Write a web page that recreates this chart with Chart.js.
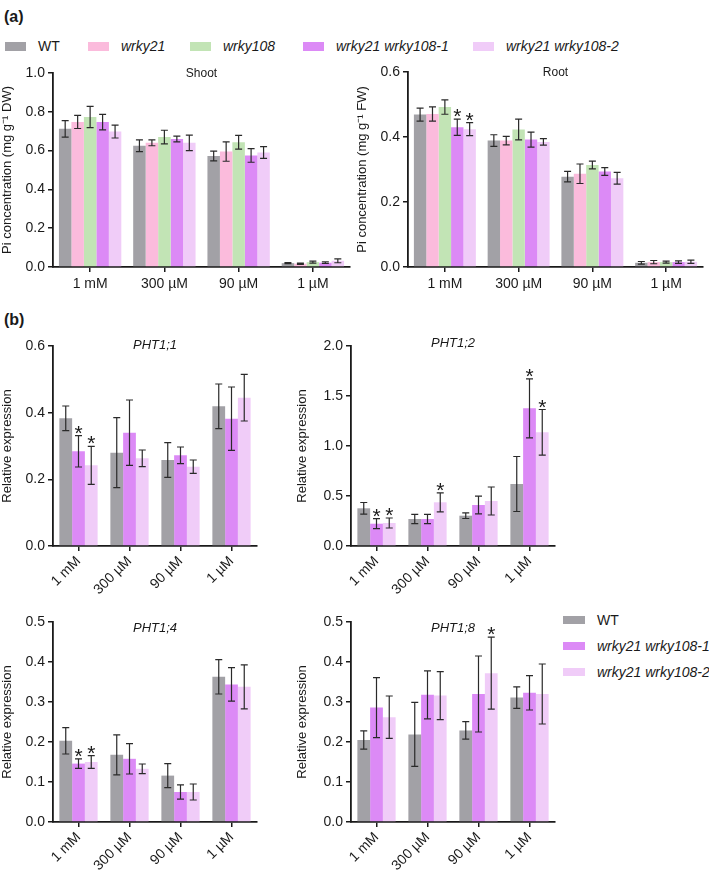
<!DOCTYPE html>
<html>
<head>
<meta charset="utf-8">
<script src="https://cdn.jsdelivr.net/npm/chart.js@4.4.1/dist/chart.umd.min.js"></script>
<style>
  body { margin: 0; background: #fff; font-family: "Liberation Sans", Arial, sans-serif; color: #1a1a1a; }
  #page { position: relative; width: 709px; height: 872px; overflow: hidden; }
  .box { position: absolute; }
  .tag { position: absolute; font-weight: bold; font-size: 16px; }
  .leg { position: absolute; font-size: 14px; font-weight: normal; display: flex; align-items: center; white-space: nowrap; }
  .leg b.sw { display: inline-block; }
  .leg span { font-style: italic; }
</style>
</head>
<body>
<div id="page">
  <div class="tag" style="left:4px; top:8px;">(a)</div>
  <div class="tag" style="left:4px; top:311px;">(b)</div>

  <div class="box" style="left:0px; top:55px;"><canvas id="shoot" width="355" height="245"></canvas></div>
  <div class="box" style="left:355px; top:55px;"><canvas id="root" width="354" height="245"></canvas></div>
  <div class="box" style="left:0px; top:300px;"><canvas id="pht11" width="295" height="300"></canvas></div>
  <div class="box" style="left:295px; top:300px;"><canvas id="pht12" width="265" height="300"></canvas></div>
  <div class="box" style="left:0px; top:600px;"><canvas id="pht14" width="295" height="272"></canvas></div>
  <div class="box" style="left:295px; top:600px;"><canvas id="pht18" width="265" height="272"></canvas></div>
</div>

<script>
// categories and genotypes
const doses = ['1 mM', '300 µM', '90 µM', '1 µM'];
const genotypes = ['WT', 'wrky21', 'wrky108', 'wrky21 wrky108-1', 'wrky21 wrky108-2'];
const colors = ['#a2a1a6', '#fbbbdc', '#c2e4b5', '#dc8af6', '#f0ccf8'];

// (a) Pi concentration, rows follow genotypes
const shootMean = [
  [0.712, 0.625, 0.572, 0.020],
  [0.748, 0.640, 0.595, 0.017],
  [0.773, 0.670, 0.643, 0.025],
  [0.747, 0.660, 0.575, 0.022],
  [0.698, 0.640, 0.590, 0.032]
];
const shootErr = [
  [0.043, 0.030, 0.025, 0.003],
  [0.034, 0.015, 0.050, 0.003],
  [0.055, 0.035, 0.035, 0.005],
  [0.040, 0.015, 0.035, 0.004],
  [0.033, 0.040, 0.030, 0.010]
];
const rootMean = [
  [0.469, 0.389, 0.278, 0.013],
  [0.471, 0.389, 0.287, 0.015],
  [0.492, 0.423, 0.314, 0.015],
  [0.430, 0.392, 0.294, 0.015],
  [0.424, 0.385, 0.273, 0.016]
];
const rootErr = [
  [0.020, 0.018, 0.016, 0.004],
  [0.022, 0.013, 0.030, 0.005],
  [0.022, 0.032, 0.012, 0.003],
  [0.025, 0.023, 0.012, 0.004],
  [0.020, 0.010, 0.018, 0.005]
];
const rootStars = [
  [0, 0, 0, 0], [0, 0, 0, 0], [0, 0, 0, 0], [1, 0, 0, 0], [1, 0, 0, 0]
];

// (b) relative expression, rows: WT, wrky21 wrky108-1, wrky21 wrky108-2
const pht11Mean = [[0.383, 0.280, 0.258, 0.419], [0.284, 0.340, 0.272, 0.382], [0.242, 0.263, 0.238, 0.445]];
const pht11Err  = [[0.037, 0.105, 0.052, 0.067], [0.047, 0.098, 0.025, 0.095], [0.057, 0.025, 0.020, 0.070]];
const pht11Stars = [[0, 0, 0, 0], [1, 0, 0, 0], [1, 0, 0, 0]];

const pht12Mean = [[0.377, 0.270, 0.303, 0.620], [0.223, 0.270, 0.410, 1.377], [0.230, 0.437, 0.450, 1.137]];
const pht12Err  = [[0.058, 0.047, 0.028, 0.275], [0.050, 0.047, 0.088, 0.295], [0.050, 0.095, 0.140, 0.228]];
const pht12Stars = [[0, 0, 0, 0], [1, 0, 0, 1], [1, 1, 0, 1]];

const pht14Mean = [[0.203, 0.168, 0.116, 0.363], [0.146, 0.158, 0.075, 0.344], [0.150, 0.133, 0.075, 0.338]];
const pht14Err  = [[0.033, 0.050, 0.030, 0.043], [0.012, 0.038, 0.018, 0.042], [0.016, 0.012, 0.020, 0.055]];
const pht14Stars = [[0, 0, 0, 0], [1, 0, 0, 0], [1, 0, 0, 0]];

const pht18Mean = [[0.205, 0.219, 0.229, 0.311], [0.286, 0.318, 0.320, 0.323], [0.262, 0.316, 0.372, 0.320]];
const pht18Err  = [[0.023, 0.080, 0.022, 0.027], [0.075, 0.060, 0.095, 0.043], [0.053, 0.060, 0.090, 0.075]];
const pht18Stars = [[0, 0, 0, 0], [0, 0, 0, 0], [0, 0, 1, 0]];

const INK = '#1a1a1a';
Chart.defaults.font.family = '"Liberation Sans", Arial, sans-serif';
Chart.defaults.color = INK;

// error bars + significance stars
const errorBars = {
  id: 'errorBars',
  afterDatasetsDraw(chart) {
    const ctx = chart.ctx;
    const y = chart.scales.y;
    ctx.save();
    ctx.strokeStyle = '#2a2a2a';
    ctx.lineWidth = 1.2;
    chart.data.datasets.forEach((ds, i) => {
      const meta = chart.getDatasetMeta(i);
      meta.data.forEach((bar, j) => {
        const v = ds.data[j], e = ds.errors[j];
        const top = y.getPixelForValue(v + e);
        const bot = y.getPixelForValue(v - e);
        const cap = 3.5;
        ctx.beginPath();
        ctx.moveTo(bar.x, top); ctx.lineTo(bar.x, bot);
        ctx.moveTo(bar.x - cap, top); ctx.lineTo(bar.x + cap, top);
        ctx.moveTo(bar.x - cap, bot); ctx.lineTo(bar.x + cap, bot);
        ctx.stroke();
        if (ds.stars && ds.stars[j]) {
          ctx.fillStyle = INK;
          ctx.font = '21px "Liberation Sans", Arial, sans-serif';
          ctx.textAlign = 'center';
          ctx.textBaseline = 'alphabetic';
          ctx.fillText('*', bar.x, top + 4);
        }
      });
    });
    ctx.restore();
  }
};

// panel title drawn inside the plot area
const panelTitle = {
  id: 'panelTitle',
  afterDraw(chart, args, opts) {
    if (!opts.text) return;
    const ctx = chart.ctx, a = chart.chartArea;
    ctx.save();
    ctx.fillStyle = INK;
    ctx.font = (opts.italic ? 'italic ' : '') + opts.size + 'px "Liberation Sans", Arial, sans-serif';
    ctx.textAlign = 'center';
    ctx.textBaseline = 'middle';
    ctx.fillText(opts.text, (a.left + a.right) / 2, a.top + opts.dy);
    ctx.restore();
  }
};

function barChart(id, o) {
  const axisGrid = { drawOnChartArea: false, drawTicks: true, tickLength: 5, color: INK, lineWidth: 1.5 };
  return new Chart(document.getElementById(id), {
    type: 'bar',
    data: {
      labels: doses,
      datasets: o.means.map((m, i) => ({
        label: o.names[i],
        data: m,
        errors: o.errs[i],
        stars: o.stars ? o.stars[i] : null,
        backgroundColor: o.colors[i],
        barPercentage: 1,
        categoryPercentage: o.cat
      }))
    },
    options: {
      responsive: false,
      animation: false,
      layout: { padding: { top: o.padTop, right: o.padRight, left: 0, bottom: 0 } },
      plugins: {
        legend: { display: false },
        tooltip: { enabled: false },
        panelTitle: { text: o.title, italic: o.italic, size: o.titleSize, dy: o.titleDy }
      },
      scales: {
        x: {
          grid: Object.assign({ offset: false }, axisGrid),
          border: { display: true, color: INK, width: 1.8 },
          ticks: { font: { size: 14 }, minRotation: o.rot, maxRotation: o.rot, autoSkip: false, padding: o.rot ? 2 : 4 },
          afterFit: s => { s.height = o.xh; }
        },
        y: {
          min: 0, max: o.yMax,
          grid: axisGrid,
          border: { display: true, color: INK, width: 1.8 },
          ticks: { stepSize: o.step, font: { size: 14 }, padding: 3, callback: v => v.toFixed(1) },
          title: { display: true, text: o.yTitle, font: { size: 13 }, padding: { top: 0, bottom: 0 } },
          afterFit: s => { s.width = o.yw; }
        }
      }
    },
    plugins: [errorBars, panelTitle]
  });
}

const panelB = [0, 3, 4];

barChart('shoot', {
  means: shootMean, errs: shootErr, names: genotypes, colors: colors, cat: 0.84,
  yMax: 1.0, step: 0.2, yTitle: 'Pi concentration (mg g⁻¹ DW)',
  title: 'Shoot', italic: false, titleSize: 12, titleDy: 1,
  yw: 53, xh: 33, padTop: 18, padRight: 5, rot: 0
});
barChart('root', {
  means: rootMean, errs: rootErr, stars: rootStars, names: genotypes, colors: colors, cat: 0.84,
  yMax: 0.6, step: 0.2, yTitle: 'Pi concentration (mg g⁻¹ FW)',
  title: 'Root', italic: false, titleSize: 12, titleDy: 1,
  yw: 53, xh: 33, padTop: 17, padRight: 6, rot: 0
});
barChart('pht11', {
  means: pht11Mean, errs: pht11Err, stars: pht11Stars, names: panelB.map(k => genotypes[k]), colors: panelB.map(k => colors[k]), cat: 0.75,
  yMax: 0.6, step: 0.2, yTitle: 'Relative expression',
  title: 'PHT1;1', italic: true, titleSize: 13, titleDy: -1,
  yw: 53, xh: 54, padTop: 46, padRight: 38, rot: 45
});
barChart('pht12', {
  means: pht12Mean, errs: pht12Err, stars: pht12Stars, names: panelB.map(k => genotypes[k]), colors: panelB.map(k => colors[k]), cat: 0.75,
  yMax: 2.0, step: 0.5, yTitle: 'Relative expression',
  title: 'PHT1;2', italic: true, titleSize: 13, titleDy: -3,
  yw: 56, xh: 54, padTop: 46, padRight: 5, rot: 45
});
barChart('pht14', {
  means: pht14Mean, errs: pht14Err, stars: pht14Stars, names: panelB.map(k => genotypes[k]), colors: panelB.map(k => colors[k]), cat: 0.75,
  yMax: 0.5, step: 0.1, yTitle: 'Relative expression',
  title: 'PHT1;4', italic: true, titleSize: 13, titleDy: 6,
  yw: 53, xh: 50, padTop: 22, padRight: 38, rot: 45
});
barChart('pht18', {
  means: pht18Mean, errs: pht18Err, stars: pht18Stars, names: panelB.map(k => genotypes[k]), colors: panelB.map(k => colors[k]), cat: 0.75,
  yMax: 0.5, step: 0.1, yTitle: 'Relative expression',
  title: 'PHT1;8', italic: true, titleSize: 13, titleDy: 6,
  yw: 56, xh: 50, padTop: 22, padRight: 5, rot: 45
});

// legends as html
const page = document.getElementById('page');
const legAx = [5, 88, 190, 303, 473];
genotypes.forEach((g, i) => {
  const d = document.createElement('div');
  d.className = 'leg';
  d.style.left = legAx[i] + 'px';
  d.style.top = '38px';
  d.innerHTML = '<b class="sw" style="width:21px;height:9px;background:' + colors[i] + ';margin-right:12px"></b>' +
    (i === 0 ? g : '<span>' + g + '</span>');
  page.appendChild(d);
});
panelB.forEach((k, r) => {
  const d = document.createElement('div');
  d.className = 'leg';
  d.style.left = '563px';
  d.style.top = (612 + r * 26) + 'px';
  d.innerHTML = '<b class="sw" style="width:22px;height:8px;background:' + colors[k] + ';margin-right:12px"></b>' +
    (k === 0 ? genotypes[k] : '<span>' + genotypes[k] + '</span>');
  page.appendChild(d);
});
</script>
</body>
</html>
